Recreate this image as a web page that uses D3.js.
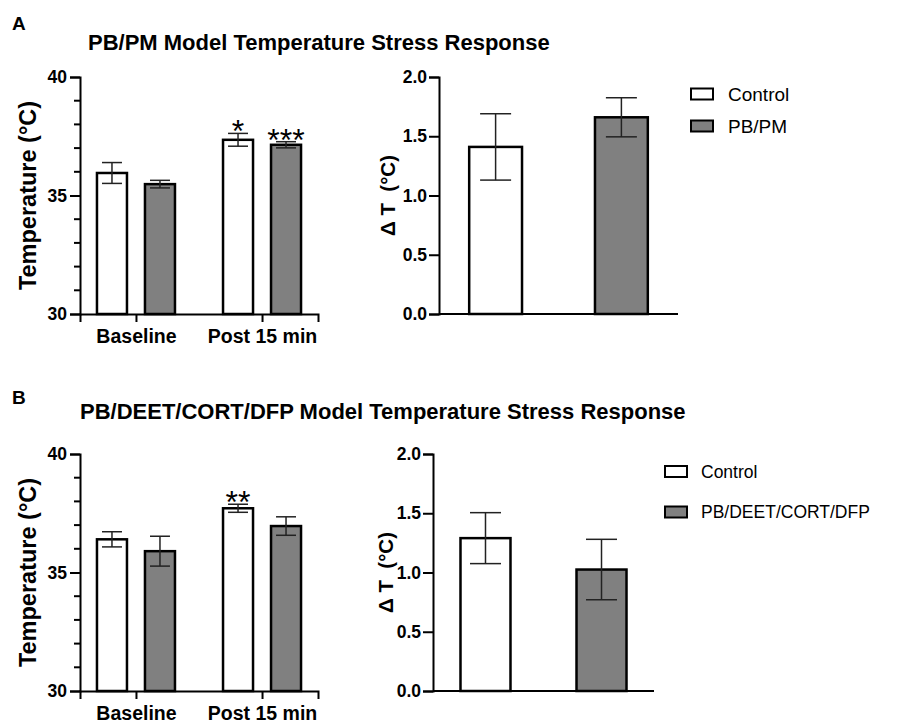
<!DOCTYPE html>
<html>
<head>
<meta charset="utf-8">
<script src="https://cdn.jsdelivr.net/npm/d3@7"></script>
<style>
  html, body { margin: 0; padding: 0; background: #fff; }
  svg { display: block; font-family: "Liberation Sans", Arial, Helvetica, sans-serif; }
</style>
</head>
<body>
<svg id="chart" width="914" height="725"></svg>
<script>
// ---------- DATA ----------
const categories = ["Baseline", "Post 15 min"];
const groupsA = ["Control", "PB/PM"];
const groupsB = ["Control", "PB/DEET/CORT/DFP"];

// Panel A – temperature (°C) mean and SEM
const tempA_control = [35.95, 37.35];
const semA_control  = [0.44, 0.27];
const tempA_drug    = [35.48, 37.14];
const semA_drug     = [0.16, 0.13];
const starsA_control = ["", "*"];
const starsA_drug    = ["", "***"];
// Panel A – delta T
const deltaA     = [1.41, 1.66];
const deltaA_sem = [0.28, 0.165];

// Panel B – temperature (°C) mean and SEM
const tempB_control = [36.40, 37.71];
const semB_control  = [0.32, 0.17];
const tempB_drug    = [35.90, 36.96];
const semB_drug     = [0.63, 0.39];
const starsB_control = ["", "**"];
const starsB_drug    = ["", ""];
// Panel B – delta T
const deltaB     = [1.29, 1.025];
const deltaB_sem = [0.215, 0.255];

const tempMinorTicks = [31, 32, 33, 34, 36, 37, 38, 39];
const tempLabels = [30, 35, 40];
const deltaTicks = [0, 0.5, 1.0, 1.5, 2.0];

const titles = ["PB/PM Model Temperature Stress Response",
                "PB/DEET/CORT/DFP Model Temperature Stress Response"];
const panelLetters = ["A", "B"];

// ---------- STYLE ----------
const fills = ["#ffffff", "#808080"];
const FONT = '"Liberation Sans", Arial, Helvetica, sans-serif';

const svg = d3.select("#chart");

function styleAxis(g) {
  g.select(".domain").attr("stroke", "#000").attr("stroke-width", 2);
  g.selectAll(".tick line").attr("stroke", "#000").attr("stroke-width", 2);
  g.selectAll(".tick text").attr("fill", "#000").attr("font-weight", "bold")
    .attr("font-family", FONT);
}

function errorBar(g, cx, y, mean, sem, capHalf) {
  const e = g.append("g").attr("stroke", "#222").attr("stroke-width", 1.5);
  e.append("line").attr("x1", cx).attr("x2", cx).attr("y1", y(mean - sem)).attr("y2", y(mean + sem));
  e.append("line").attr("x1", cx - capHalf).attr("x2", cx + capHalf).attr("y1", y(mean + sem)).attr("y2", y(mean + sem));
  e.append("line").attr("x1", cx - capHalf).attr("x2", cx + capHalf).attr("y1", y(mean - sem)).attr("y2", y(mean - sem));
}

function groupedPanel(cfg) {
  const g = svg.append("g");
  const x = d3.scalePoint().domain(categories).range([cfg.x0, cfg.x1]).padding(0.444);
  const xs = d3.scaleBand().domain(cfg.groups).range([-39, 39]).paddingInner(0.375).paddingOuter(0);
  const y = d3.scaleLinear().domain([30, 40]).range([cfg.yBottom, cfg.yTop]);

  const series = [
    { name: cfg.groups[0], mean: cfg.ctrl, sem: cfg.ctrlSem, stars: cfg.ctrlStars, fill: fills[0] },
    { name: cfg.groups[1], mean: cfg.drug, sem: cfg.drugSem, stars: cfg.drugStars, fill: fills[1] }
  ];

  series.forEach(s => {
    categories.forEach((c, i) => {
      const bx = x(c) + xs(s.name);
      g.append("rect")
        .attr("x", bx).attr("width", xs.bandwidth())
        .attr("y", y(s.mean[i])).attr("height", y(30) - y(s.mean[i]))
        .attr("fill", s.fill).attr("stroke", "#000").attr("stroke-width", 2.5);
      const cx = bx + xs.bandwidth() / 2;
      errorBar(g, cx, y, s.mean[i], s.sem[i], 10);
      if (s.stars[i]) {
        g.append("text").attr("x", cx).attr("y", y(s.mean[i] + s.sem[i]) + 9)
          .attr("text-anchor", "middle").attr("font-size", 32).attr("font-family", FONT)
          .attr("fill", "#000").text(s.stars[i]);
      }
    });
  });

  // y axis: labelled major ticks
  const ya = g.append("g").attr("transform", `translate(${cfg.x0},0)`)
    .call(d3.axisLeft(y).tickValues(tempLabels).tickSizeOuter(0).tickSize(10).tickPadding(3));
  styleAxis(ya);
  ya.selectAll(".tick text").attr("font-size", 17.5);
  // minor ticks
  ya.selectAll("line.minor").data(tempMinorTicks).join("line")
    .attr("class", "minor")
    .attr("x1", -6).attr("x2", 0)
    .attr("y1", d => y(d)).attr("y2", d => y(d))
    .attr("stroke", "#000").attr("stroke-width", 2);

  // x axis
  const xa = g.append("g").attr("transform", `translate(0,${cfg.yBottom})`)
    .call(d3.axisBottom(x).tickSizeOuter(0).tickSize(8));
  styleAxis(xa);
  xa.selectAll(".tick text").attr("font-size", 19.5).attr("y", 29).attr("dy", 0);

  // y title
  g.append("text")
    .attr("transform", `translate(${cfg.titleX},${(cfg.yTop + cfg.yBottom) / 2}) rotate(-90)`)
    .attr("text-anchor", "middle").attr("dominant-baseline", "central")
    .attr("font-size", 23.5).attr("font-weight", "bold").attr("font-family", FONT)
    .text("Temperature (°C)");
}

function deltaPanel(cfg) {
  const g = svg.append("g");
  const x = d3.scaleBand().domain(cfg.groups).range([cfg.x0, cfg.x1])
    .paddingInner(cfg.pi).paddingOuter(cfg.po).align(0.5);
  const y = d3.scaleLinear().domain([0, 2]).range([cfg.yBottom, cfg.yTop]);

  cfg.groups.forEach((name, i) => {
    g.append("rect")
      .attr("x", x(name)).attr("width", x.bandwidth())
      .attr("y", y(cfg.vals[i])).attr("height", y(0) - y(cfg.vals[i]))
      .attr("fill", fills[i]).attr("stroke", "#000").attr("stroke-width", 2.5);
    errorBar(g, x(name) + x.bandwidth() / 2, y, cfg.vals[i], cfg.sem[i], 15.5);
  });

  const ya = g.append("g").attr("transform", `translate(${cfg.x0},0)`)
    .call(d3.axisLeft(y).tickValues(deltaTicks).tickSizeOuter(0).tickSize(10).tickPadding(2)
      .tickFormat(d3.format(".1f")));
  styleAxis(ya);
  ya.selectAll(".tick text").attr("font-size", 17.5);

  g.append("line").attr("x1", cfg.x0).attr("x2", cfg.x1)
    .attr("y1", cfg.yBottom).attr("y2", cfg.yBottom)
    .attr("stroke", "#000").attr("stroke-width", 2);

  g.append("text")
    .attr("transform", `translate(${cfg.titleX},${(cfg.yTop + cfg.yBottom) / 2}) rotate(-90)`)
    .attr("text-anchor", "middle").attr("dominant-baseline", "central")
    .attr("font-size", 20.5).attr("font-weight", "bold").attr("font-family", FONT)
    .attr("xml:space", "preserve")
    .text("Δ T  (°C)");

  // legend
  cfg.groups.forEach((name, i) => {
    const ly = cfg.legY + i * cfg.legStep;
    g.append("rect").attr("x", cfg.legX).attr("y", ly - 5.5).attr("width", 22).attr("height", 11)
      .attr("fill", fills[i]).attr("stroke", "#000").attr("stroke-width", 2);
    g.append("text").attr("x", cfg.legX + cfg.legTextDx).attr("y", ly)
      .attr("dominant-baseline", "central").attr("font-size", cfg.legFont)
      .attr("font-family", FONT).attr("fill", "#000").text(name);
  });
}

// Panel letters & titles
svg.append("text").attr("x", 12).attr("y", 30).attr("font-size", 19).attr("font-weight", "bold")
  .attr("font-family", FONT).text(panelLetters[0]);
svg.append("text").attr("x", 88).attr("y", 50).attr("font-size", 22).attr("font-weight", "bold")
  .attr("font-family", FONT).text(titles[0]);
svg.append("text").attr("x", 12).attr("y", 404).attr("font-size", 19).attr("font-weight", "bold")
  .attr("font-family", FONT).text(panelLetters[1]);
svg.append("text").attr("x", 80).attr("y", 419).attr("font-size", 22).attr("font-weight", "bold")
  .attr("font-family", FONT).text(titles[1]);

groupedPanel({
  groups: groupsA, x0: 80, x1: 318, yTop: 77, yBottom: 314, titleX: 28,
  ctrl: tempA_control, ctrlSem: semA_control, ctrlStars: starsA_control,
  drug: tempA_drug, drugSem: semA_drug, drugStars: starsA_drug
});
deltaPanel({
  groups: groupsA, x0: 439, x1: 678, yTop: 77, yBottom: 314, titleX: 387,
  pi: 0.58, po: 0.24, vals: deltaA, sem: deltaA_sem,
  legX: 691, legY: 94, legStep: 32, legTextDx: 37, legFont: 19
});
groupedPanel({
  groups: groupsB, x0: 80, x1: 318, yTop: 454, yBottom: 691, titleX: 28,
  ctrl: tempB_control, ctrlSem: semB_control, ctrlStars: starsB_control,
  drug: tempB_drug, drugSem: semB_drug, drugStars: starsB_drug
});
deltaPanel({
  groups: groupsB, x0: 433, x1: 654, yTop: 454, yBottom: 691, titleX: 385,
  pi: 0.569, po: 0.237, vals: deltaB, sem: deltaB_sem,
  legX: 665, legY: 471.5, legStep: 40.5, legTextDx: 36, legFont: 17.5
});
</script>
</body>
</html>
